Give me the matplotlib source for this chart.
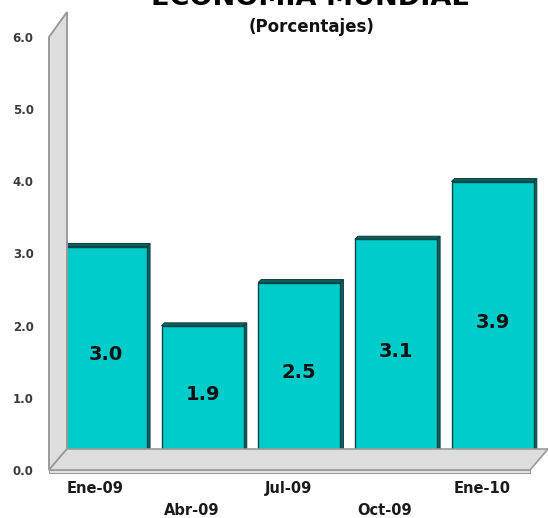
import matplotlib.pyplot as plt
import matplotlib.transforms as mtransforms
from matplotlib.patches import Polygon

plt.rcParams["font.family"] = ["DejaVu Sans"]

# data
categories = ["Ene-09", "Abr-09", "Jul-09", "Oct-09", "Ene-10"]
values = [3.0, 1.9, 2.5, 3.1, 3.9]
yticks = [0.0, 1.0, 2.0, 3.0, 4.0, 5.0, 6.0]

title = "ECONOMÍA MUNDIAL"
subtitle = "(Porcentajes)"

FACE = "#00CCCC"
SIDE = "#116060"
EDGE = "#0A4545"
WALL = "#DEDEDE"
WALL_EDGE = "#9A9A9A"

fig = plt.figure(figsize=(5.48, 5.18), dpi=100)
ax = fig.add_axes([49 / 548, 48 / 518, 481 / 548, 433 / 518])
ax.set_xlim(-0.475, 4.5)
ax.set_ylim(0, 6)
for s in ax.spines.values():
    s.set_visible(False)


def shifted(dx_px, dy_px):
    return ax.transData + mtransforms.ScaledTranslation(dx_px / 100, dy_px / 100, fig.dpi_scale_trans)


x0, x1 = ax.get_xlim()
ytop = yticks[-1]
back = shifted(18, 21)

# side wall: front edge at x0, back edge pushed into depth
fl, fh = ax.transData.transform([(x0, 0), (x0, ytop)])
bl, bh = back.transform([(x0, 0), (x0, ytop)])
bh = (bh[0], bh[1] + 4)
wall = Polygon([fl, fh, bh, bl], closed=True, transform=None,
               facecolor=WALL, edgecolor=WALL_EDGE, lw=1.4, zorder=1)
fig.patches.append(wall)

# floor slab
fr = ax.transData.transform((x1, 0))
br = back.transform((x1, 0))
floor = Polygon([fl, fr, br, bl], closed=True, transform=None,
                facecolor=WALL, edgecolor=WALL_EDGE, lw=1.2, zorder=1)
slab = Polygon([fl, fr, (fr[0], fr[1] - 3), (fl[0], fl[1] - 3)], closed=True, transform=None,
               facecolor="#E6E6E6", edgecolor=WALL_EDGE, lw=0.8, zorder=1)
fig.patches.extend([floor, slab])

# bars sit a little back in the box
bar_off = shifted(11, 7)
width = 0.85
bd = (3, 3)
bars = ax.bar(range(len(values)), values, width=width, color=FACE, edgecolor=EDGE,
              linewidth=1.0, transform=bar_off, zorder=3, clip_on=False)
for i, v in enumerate(values):
    xl, xr = i - width / 2, i + width / 2
    p = bar_off.transform([(xl, v), (xr, v), (xr, 0)])
    top = [p[0], p[1], p[1] + bd, p[0] + bd]
    side = [p[1], p[2], p[2] + bd, p[1] + bd]
    for poly in (top, side):
        ax.add_patch(Polygon(poly, closed=True, transform=None, facecolor=SIDE,
                             edgecolor=EDGE, lw=0.8, zorder=2, clip_on=False))
    ax.text(i, v / 2, f"{v:.1f}", transform=bar_off, ha="center", va="center",
            fontsize=14, fontweight="bold", color="#111111", zorder=4)

ax.set_xticks([])
ax.set_yticks(yticks)
ax.set_yticklabels([f"{t:.1f}" for t in yticks], fontsize=8.5, fontweight="bold", color="#3a3a3a")
ax.tick_params(axis="y", length=0, pad=11)

for i, lab in enumerate(categories):
    ypos = -0.043 if i % 2 == 0 else -0.094
    ax.text(i, ypos, lab, transform=ax.get_xaxis_transform(), ha="center", va="center",
            fontsize=10.5, fontweight="bold", color="#1a1a1a")

fig.text(310 / 548, 1 - 5 / 518, title, ha="center", va="baseline",
         fontsize=19.5, fontweight="bold", color="#000000")
fig.text(312 / 548, 1 - 32 / 518, subtitle, ha="center", va="baseline",
         fontsize=12, fontweight="bold", color="#111111")

fig.savefig("out.png", dpi=100)
